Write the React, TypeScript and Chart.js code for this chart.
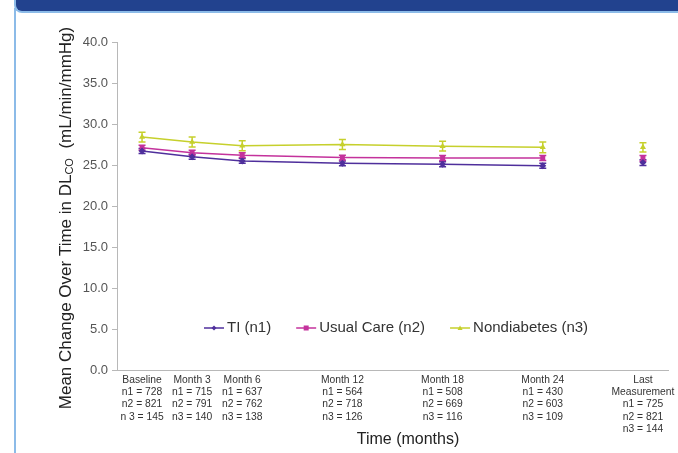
import React, { useEffect, useRef } from "react";
import { Chart, registerables } from "chart.js";

Chart.register(...registerables);

// ---- data ----
const months = [0, 3, 6, 12, 18, 24, 30];
const xTickLabels: string[][] = [
  ["Baseline", "n1 = 728", "n2 = 821", "n 3 = 145"],
  ["Month 3", "n1 = 715", "n2 = 791", "n3 = 140"],
  ["Month 6", "n1 = 637", "n2 = 762", "n3 = 138"],
  ["Month 12", "n1 = 564", "n2 = 718", "n3 = 126"],
  ["Month 18", "n1 = 508", "n2 = 669", "n3 = 116"],
  ["Month 24", "n1 = 430", "n2 = 603", "n3 = 109"],
  ["Last", "Measurement", "n1 = 725", "n2 = 821", "n3 = 144"],
];
const seriesNames = ["TI (n1)", "Usual Care (n2)", "Nondiabetes (n3)"];
const tiValues = [26.7, 26.0, 25.5, 25.2, 25.1, 24.9, 25.3];
const tiErrors = [0.3, 0.3, 0.3, 0.3, 0.3, 0.3, 0.35];
const ucValues = [27.1, 26.5, 26.2, 25.9, 25.85, 25.85, 25.8];
const ucErrors = [0.3, 0.3, 0.3, 0.3, 0.3, 0.3, 0.35];
const ndValues = [28.4, 27.8, 27.35, 27.5, 27.3, 27.15, 27.15];
const ndErrors = [0.6, 0.6, 0.6, 0.6, 0.6, 0.65, 0.57];
const yTicks = [0, 5, 10, 15, 20, 25, 30, 35, 40];
const xTitle = "Time (months)";

const FONT = "'Liberation Sans', Arial, Helvetica, sans-serif";
const colors = ["#4f2f9c", "#c4329c", "#c6d02c"];
const pointStyles = ["rectRot", "rect", "triangle"];

function toPoints(vals: number[]) {
  const pts: { x: number; y: number | null }[] = [];
  months.forEach((m, i) => {
    if (i === months.length - 1) pts.push({ x: (months[i - 1] + m) / 2, y: null });
    pts.push({ x: m, y: vals[i] });
  });
  return pts;
}

const allValues = [tiValues, ucValues, ndValues];
const allErrors = [tiErrors, ucErrors, ndErrors];

const errorBarPlugin = {
  id: "errorBars",
  beforeDatasetsDraw(chart: any) {
    const ctx = chart.ctx;
    const xs = chart.scales.x;
    const ys = chart.scales.y;
    ctx.save();
    allValues.forEach((vals, di) => {
      ctx.strokeStyle = colors[di];
      ctx.lineWidth = 1.5;
      vals.forEach((v, i) => {
        const e = allErrors[di][i];
        const x = xs.getPixelForValue(months[i]);
        const yt = ys.getPixelForValue(v + e);
        const yb = ys.getPixelForValue(v - e);
        ctx.beginPath();
        ctx.moveTo(x, yt);
        ctx.lineTo(x, yb);
        ctx.moveTo(x - 3.5, yt);
        ctx.lineTo(x + 3.5, yt);
        ctx.moveTo(x - 3.5, yb);
        ctx.lineTo(x + 3.5, yb);
        ctx.stroke();
      });
    });
    ctx.restore();
  },
};

function drawMarker(ctx: CanvasRenderingContext2D, style: string, x: number, y: number, r: number) {
  ctx.beginPath();
  if (style === "rectRot") {
    ctx.moveTo(x, y - r);
    ctx.lineTo(x + r, y);
    ctx.lineTo(x, y + r);
    ctx.lineTo(x - r, y);
  } else if (style === "rect") {
    ctx.rect(x - r, y - r, 2 * r, 2 * r);
  } else {
    ctx.moveTo(x, y - r);
    ctx.lineTo(x + r, y + r * 0.8);
    ctx.lineTo(x - r, y + r * 0.8);
  }
  ctx.closePath();
  ctx.fill();
}

const decorPlugin = {
  id: "decor",
  afterDraw(chart: any) {
    const ctx = chart.ctx as CanvasRenderingContext2D;
    const xs = chart.scales.x;
    const area = chart.chartArea;
    ctx.save();
    // x tick labels
    ctx.fillStyle = "#333";
    ctx.font = `10.3px ${FONT}`;
    ctx.textAlign = "center";
    ctx.textBaseline = "middle";
    xTickLabels.forEach((lines, i) => {
      const x = xs.getPixelForValue(months[i]);
      lines.forEach((t, li) => ctx.fillText(t, x, area.bottom + 10 + li * 12.3));
    });
    // x title
    ctx.font = `16px ${FONT}`;
    ctx.fillStyle = "#222";
    ctx.fillText(xTitle, 408, 440);

    // y title with subscript
    const big = `17px ${FONT}`;
    const small = `11px ${FONT}`;
    const parts: [string, string, number][] = [
      ["Mean Change Over Time in DL", big, 0],
      ["CO", small, 4],
      ["  (mL/min/mmHg)", big, 0],
    ];
    let total = 0;
    parts.forEach(([t, f]) => {
      ctx.font = f;
      total += ctx.measureText(t).width;
    });
    ctx.translate(66, 218);
    ctx.rotate(-Math.PI / 2);
    ctx.textAlign = "left";
    ctx.textBaseline = "middle";
    let cx = -total / 2;
    parts.forEach(([t, f, dy]) => {
      ctx.font = f;
      ctx.fillText(t, cx, dy);
      cx += ctx.measureText(t).width;
    });
    ctx.setTransform(1, 0, 0, 1, 0, 0);

    // legend
    ctx.font = `15px ${FONT}`;
    ctx.textAlign = "left";
    ctx.textBaseline = "middle";
    let lx = area.left + 87;
    const ly = area.bottom - 42;
    seriesNames.forEach((name, i) => {
      ctx.strokeStyle = colors[i];
      ctx.fillStyle = colors[i];
      ctx.lineWidth = 1.5;
      ctx.beginPath();
      ctx.moveTo(lx, ly);
      ctx.lineTo(lx + 20, ly);
      ctx.stroke();
      drawMarker(ctx, pointStyles[i], lx + 10, ly, 2.5);
      ctx.fillStyle = "#333";
      ctx.fillText(name, lx + 23, ly);
      lx += 23 + ctx.measureText(name).width + 25;
    });
    ctx.restore();
  },
};

export default function App() {
  const ref = useRef<HTMLCanvasElement>(null);
  useEffect(() => {
    if (!ref.current) return;
    const chart = new Chart(ref.current, {
      type: "line",
      data: {
        datasets: allValues.map((vals, i) => ({
          label: seriesNames[i],
          data: toPoints(vals) as any,
          borderColor: colors[i],
          backgroundColor: colors[i],
          borderWidth: 1.5,
          pointStyle: pointStyles[i] as any,
          pointRadius: 3.5,
          pointBorderWidth: 0,
          spanGaps: false,
          tension: 0,
        })),
      },
      options: {
        responsive: false,
        animation: false,
        layout: { padding: { top: 42, right: 10, bottom: 83, left: 0 } },
        plugins: { legend: { display: false }, tooltip: { enabled: false } },
        scales: {
          x: {
            type: "linear",
            min: -1.5,
            max: 31.5,
            ticks: { display: false },
            grid: { display: false },
            border: { display: true, color: "#b8b8b8", width: 1 },
            afterFit: (s: any) => {
              s.height = 0;
            },
          },
          y: {
            min: 0,
            max: 40,
            afterBuildTicks: (s: any) => {
              s.ticks = yTicks.map((v) => ({ value: v }));
            },
            ticks: {
              callback: (v: any) => Number(v).toFixed(1),
              font: { size: 13, family: FONT },
              color: "#555",
              padding: 4,
            },
            grid: { drawOnChartArea: false, tickLength: 5, color: "#b8b8b8" },
            border: { display: true, color: "#b8b8b8", width: 1 },
            afterFit: (s: any) => {
              s.width = 117;
            },
          },
        },
      },
      plugins: [errorBarPlugin, decorPlugin],
    });
    return () => chart.destroy();
  }, []);

  return (
    <div style={{ position: "fixed", left: 0, top: 0, width: 678, height: 453, background: "#fff", overflow: "hidden" }}>
      <canvas ref={ref} width={678} height={453} style={{ position: "absolute", left: 0, top: 0 }} />
      <div
        style={{
          position: "absolute",
          left: 14,
          top: 0,
          width: 664,
          height: 11,
          background: "#22428e",
          borderBottom: "2px solid #8cbbe8",
          borderLeft: "2px solid #8cbbe8",
          borderBottomLeftRadius: 8,
          boxSizing: "content-box",
        }}
      />
      <div style={{ position: "absolute", left: 14, top: 8, width: 2, height: 445, background: "#8cbbe8" }} />
    </div>
  );
}
